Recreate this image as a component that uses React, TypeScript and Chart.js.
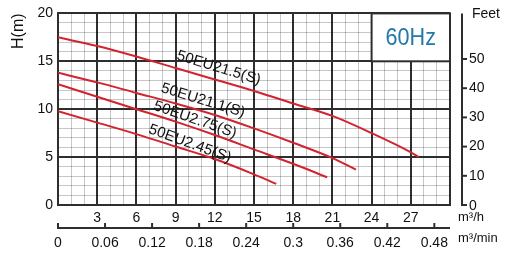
import React, { useEffect, useRef } from 'react';
import { Chart, registerables } from 'chart.js';
Chart.register(...registerables);

// Pump curves (flow m³/h -> head m)
const flowA = [0, 3, 6, 9, 12, 15, 18, 21, 24, 27, 27.6]; // 50EU21.5(S)
const headA = [17.5, 16.6, 15.5, 14.3, 13.1, 11.9, 10.6, 9.3, 7.5, 5.5, 5.0];
const flowB = [0, 3, 6, 9, 12, 15, 18, 21, 22.8]; // 50EU21.1(S)
const headB = [13.8, 12.8, 11.7, 10.6, 9.4, 8.0, 6.5, 4.9, 3.7];
const flowC = [0, 3, 6, 9, 12, 15, 18, 20.6]; // 50EU2.75(S)
const headC = [12.6, 11.3, 10.0, 8.7, 7.3, 5.8, 4.3, 2.9];
const flowD = [0, 3, 6, 9, 12, 15, 16.7]; // 50EU2.45(S)
const headD = [9.8, 8.6, 7.4, 6.1, 4.8, 3.2, 2.2];

const seriesNames = ['50EU21.5(S)', '50EU21.1(S)', '50EU2.75(S)', '50EU2.45(S)'];
const labelFlow = [12.3, 11.1, 10.5, 10.1];
const labelHead = [14.3, 10.9, 8.9, 6.4];
const labelAngle = [17, 17, 19, 20];

const flowTickLabels = [3, 6, 9, 12, 15, 18, 21, 24, 27];
const headTickLabels = [0, 5, 10, 15, 20];
const feetTickLabels = [0, 10, 20, 30, 40, 50];
const minTickLabels = [0, 0.06, 0.12, 0.18, 0.24, 0.3, 0.36, 0.42, 0.48];
const freqLabel = '60Hz';

const FT_PER_M = 3.28084;
const FLOW_MAX = 30;
const HEAD_MAX = 20;

const DARK = '#2e2e2e';
const MINOR = 'rgba(0,0,0,0.22)';
const RED = '#d2232e';
const FONT = 'Liberation Sans, Arial, sans-serif';

const extrasPlugin = {
  id: 'extras',
  beforeDatasetsDraw(chart: any) {
    const { ctx } = chart;
    const x = chart.scales.x;
    const y = chart.scales.y;
    const x0 = x.getPixelForValue(24), x1 = x.getPixelForValue(30);
    const y0 = y.getPixelForValue(20), y1 = y.getPixelForValue(15);
    ctx.save();
    ctx.fillStyle = '#fff';
    ctx.fillRect(x0, y0, x1 - x0, y1 - y0);
    ctx.strokeStyle = DARK;
    ctx.lineWidth = 2;
    ctx.strokeRect(x0, y0, x1 - x0, y1 - y0);
    ctx.fillStyle = '#237aa8';
    ctx.font = `24px ${FONT}`;
    ctx.textAlign = 'center';
    ctx.textBaseline = 'middle';
    ctx.translate((x0 + x1) / 2, (y0 + y1) / 2 + 1);
    ctx.scale(0.9, 1);
    ctx.fillText(freqLabel, 0, 0);
    ctx.restore();
  },
  afterDatasetsDraw(chart: any) {
    const { ctx } = chart;
    const x = chart.scales.x;
    const y = chart.scales.y;
    ctx.save();
    ctx.fillStyle = '#111';
    ctx.font = `15px ${FONT}`;
    ctx.textAlign = 'center';
    ctx.textBaseline = 'middle';
    seriesNames.forEach((name, i) => {
      ctx.save();
      ctx.translate(x.getPixelForValue(labelFlow[i]), y.getPixelForValue(labelHead[i]));
      ctx.rotate((labelAngle[i] * Math.PI) / 180);
      ctx.fillText(name, 0, 0);
      ctx.restore();
    });
    ctx.restore();
  },
  afterDraw(chart: any) {
    const { ctx, chartArea } = chart;
    const ft = chart.scales.ft;
    const mm = chart.scales.mmin;
    ctx.save();
    // Feet axis
    const ax = chartArea.right + 12;
    ctx.strokeStyle = DARK;
    ctx.lineWidth = 2;
    ctx.beginPath();
    ctx.moveTo(ax, chartArea.top);
    ctx.lineTo(ax, chartArea.bottom);
    ctx.stroke();
    ctx.fillStyle = '#111';
    ctx.font = `14px ${FONT}`;
    ctx.textAlign = 'left';
    ctx.textBaseline = 'middle';
    feetTickLabels.forEach((v) => {
      const py = ft.getPixelForValue(v);
      ctx.beginPath();
      ctx.moveTo(ax - 1, py);
      ctx.lineTo(ax + 5, py);
      ctx.stroke();
      ctx.fillText(String(v), ax + 7, py + (v === 0 ? 1 : 0));
    });
    ctx.fillText('Feet', ax + 10, chartArea.top + 1);

    // m³/min axis
    const ay = chartArea.bottom + 23;
    ctx.beginPath();
    ctx.moveTo(chartArea.left, ay);
    ctx.lineTo(chartArea.right, ay);
    ctx.stroke();
    ctx.textAlign = 'center';
    minTickLabels.forEach((v) => {
      const px = mm.getPixelForValue(v);
      ctx.beginPath();
      ctx.moveTo(px, ay + 1);
      ctx.lineTo(px, ay - 5);
      ctx.stroke();
      ctx.fillText(String(v), px, ay + 15);
    });
    ctx.textAlign = 'left';
    ctx.font = `13px ${FONT}`;
    ctx.fillText('m³/h', chartArea.right + 8, chartArea.bottom + 12);
    ctx.fillText('m³/min', chartArea.right + 8, chartArea.bottom + 33);
    ctx.restore();
  },
};

function toPoints(fx: number[], hy: number[]) {
  return fx.map((f, i) => ({ x: f, y: hy[i] }));
}

export default function App() {
  const ref = useRef<HTMLCanvasElement | null>(null);
  useEffect(() => {
    if (!ref.current) return;
    const ds = [
      toPoints(flowA, headA),
      toPoints(flowB, headB),
      toPoints(flowC, headC),
      toPoints(flowD, headD),
    ].map((d, i) => ({
      label: seriesNames[i],
      data: d,
      borderColor: RED,
      borderWidth: 2,
      pointRadius: 0,
      cubicInterpolationMode: 'monotone' as const,
      fill: false,
    }));
    const chart = new Chart(ref.current, {
      type: 'line',
      data: { datasets: ds },
      options: {
        animation: false,
        responsive: false,
        devicePixelRatio: 1,
        layout: { padding: { left: 0, top: 12, right: 59, bottom: 0 } },
        plugins: { legend: { display: false }, tooltip: { enabled: false } },
        scales: {
          x: {
            type: 'linear',
            min: 0,
            max: FLOW_MAX,
            position: 'bottom',
            ticks: {
              stepSize: 1,
              autoSkip: false,
              maxRotation: 0,
              padding: 5,
              color: '#111',
              font: { family: FONT, size: 14 },
              callback: (v: any) => (flowTickLabels.includes(v) ? String(v) : ''),
            },
            grid: {
              drawTicks: false,
              color: (c: any) => (c.tick && c.tick.value % 3 === 0 ? DARK : MINOR),
              lineWidth: (c: any) => (c.tick && c.tick.value % 3 === 0 ? 2 : 1),
            },
            border: { color: DARK, width: 2 },
            afterFit: (s: any) => { s.height = 49; },
          },
          y: {
            type: 'linear',
            min: 0,
            max: HEAD_MAX,
            ticks: {
              stepSize: 1,
              autoSkip: false,
              padding: 5,
              color: '#111',
              font: { family: FONT, size: 14 },
              callback: (v: any) => (headTickLabels.includes(v) ? String(v) : ''),
            },
            grid: {
              drawTicks: false,
              color: (c: any) => (c.tick && c.tick.value % 5 === 0 ? DARK : MINOR),
              lineWidth: (c: any) => (c.tick && c.tick.value % 5 === 0 ? 2 : 1),
            },
            border: { color: DARK, width: 2 },
            title: {
              display: true,
              text: 'H(m)',
              align: 'end',
              color: '#111',
              font: { family: FONT, size: 16 },
              padding: { top: 9, bottom: 0 },
            },
            afterFit: (s: any) => { s.width = 58; },
          },
          ft: { type: 'linear', display: false, position: 'right', min: 0, max: HEAD_MAX * FT_PER_M },
          mmin: { type: 'linear', display: false, position: 'bottom', min: 0, max: FLOW_MAX / 60 },
        },
      } as any,
      plugins: [extrasPlugin],
    });
    return () => chart.destroy();
  }, []);
  return (
    <div style={{ position: 'absolute', left: 0, top: 0, width: 509, height: 254, background: '#fff' }}>
      <canvas ref={ref} width={509} height={254} style={{ display: 'block' }} />
    </div>
  );
}
